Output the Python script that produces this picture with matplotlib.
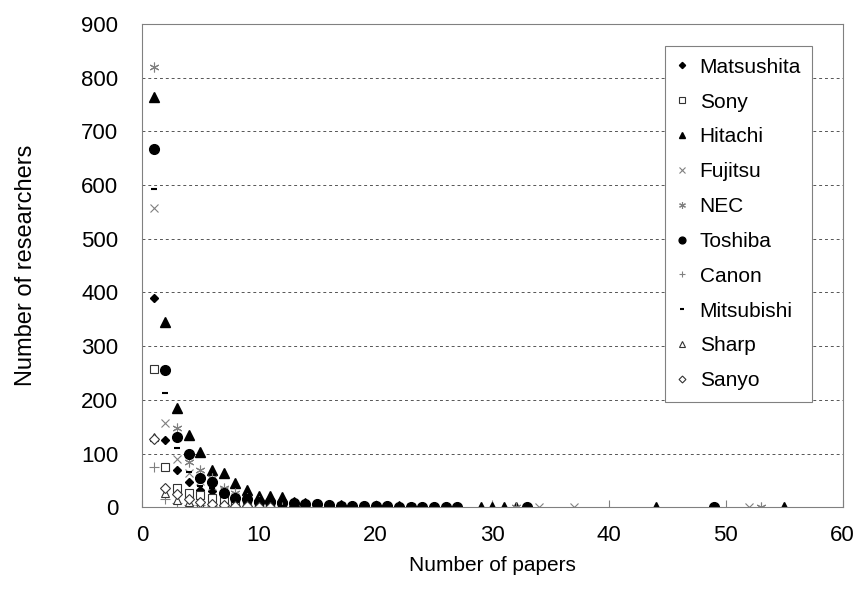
import matplotlib.pyplot as plt

plt.rcParams['font.family'] = ['Liberation Sans', 'DejaVu Sans']

# number of papers (x) and number of researchers (y) per company
mat_x = list(range(1, 23))
mat_y = [390, 125, 69, 47, 32, 30, 19, 12, 8, 6, 5, 4, 3, 2, 2, 1, 1, 1, 1, 1, 1, 1]

sony_x = list(range(1, 17))
sony_y = [257, 75, 35, 27, 22, 17, 12, 8, 6, 4, 3, 3, 2, 2, 1, 1]

hit_x = list(range(1, 28)) + [29, 30, 31, 32, 44, 55]
hit_y = [765, 345, 185, 134, 102, 69, 63, 45, 32, 21, 21, 19, 10, 8, 6, 5, 4, 3, 3, 2,
         2, 2, 1, 1, 1, 1, 1, 1, 1, 1, 1, 1, 1]

fuj_x = list(range(1, 21)) + [23, 34, 37, 52]
fuj_y = [558, 156, 90, 63, 49, 40, 30, 20, 12, 8, 6, 5, 4, 3, 2, 2, 2, 1, 1, 1, 1, 1, 1, 1]

nec_x = list(range(1, 25)) + [32, 53]
nec_y = [820, 255, 147, 85, 69, 54, 35, 26, 18, 12, 8, 7, 7, 5, 4, 4, 3, 2, 2, 2,
         1, 1, 1, 1, 1, 1]

tos_x = list(range(1, 28)) + [33, 49]
tos_y = [668, 255, 131, 100, 54, 47, 26, 17, 16, 9, 9, 8, 7, 6, 6, 4, 3, 3, 2, 2,
         2, 1, 1, 1, 1, 1, 1, 1, 1]

can_x = list(range(1, 13))
can_y = [75, 15, 8, 5, 4, 3, 2, 2, 1, 1, 1, 1]

mit_x = list(range(1, 18))
mit_y = [592, 212, 110, 65, 40, 35, 20, 12, 8, 5, 4, 3, 2, 2, 1, 1, 1]

sha_x = list(range(1, 12))
sha_y = [130, 26, 13, 10, 6, 4, 3, 2, 1, 1, 1]

san_x = list(range(1, 12))
san_y = [128, 35, 25, 15, 10, 6, 4, 3, 2, 1, 1]

fig = plt.figure(figsize=(8.66, 6.01), dpi=100)
ax = fig.add_axes([0.164, 0.156, 0.809, 0.804])

gray = '#808080'
ax.plot(mat_x, mat_y, 'D', ms=4.5, color='black', label='Matsushita')
ax.plot(sony_x, sony_y, 's', ms=6, mfc='white', mec='#333333', mew=0.8, label='Sony')
ax.plot(hit_x, hit_y, '^', ms=7, color='black', label='Hitachi')
ax.plot(fuj_x, fuj_y, 'x', ms=6, color=gray, mew=0.8, label='Fujitsu')
ax.plot(nec_x, nec_y, marker=(6, 2, 0), ls='none', ms=7, color=gray, mew=0.8, label='NEC')
ax.plot(tos_x, tos_y, 'o', ms=7, color='black', label='Toshiba')
ax.plot(can_x, can_y, '+', ms=7, color=gray, mew=0.8, label='Canon')
ax.plot(mit_x, mit_y, '_', ms=5, color='black', mew=1.5, label='Mitsubishi')
ax.plot(sha_x, sha_y, '^', ms=6, mfc='white', mec='#333333', mew=0.8, label='Sharp')
ax.plot(san_x, san_y, 'D', ms=5, mfc='white', mec='#333333', mew=0.8, label='Sanyo')

ax.set_xlim(0, 60)
ax.set_ylim(0, 900)
ax.set_xticks(range(0, 61, 10))
ax.set_yticks(range(0, 901, 100))
ax.yaxis.grid(True, linestyle=(0, (3, 3)), color='#555555', linewidth=0.7)
ax.set_axisbelow(True)
for s in ax.spines.values():
    s.set_color('#808080')
ax.tick_params(axis='x', direction='in', length=5, color='#808080', labelsize=16, pad=13)
ax.tick_params(axis='y', direction='in', length=0, labelsize=16, pad=17)

ax.set_xlabel('Number of papers', fontsize=15)
ax.set_ylabel('Number of researchers', fontsize=17)
ax.xaxis.set_label_coords(0.5, -0.10)
ax.yaxis.set_label_coords(-0.150, 0.5)

leg = ax.legend(loc='upper right', bbox_to_anchor=(0.957, 0.954), borderaxespad=0,
                fontsize=15, markerscale=0.7, fancybox=False, framealpha=1,
                edgecolor='#808080', handlelength=0.5, handletextpad=0.6,
                labelspacing=0.76, borderpad=0.55)
leg.get_frame().set_linewidth(0.8)

plt.savefig('out.png', dpi=100)
